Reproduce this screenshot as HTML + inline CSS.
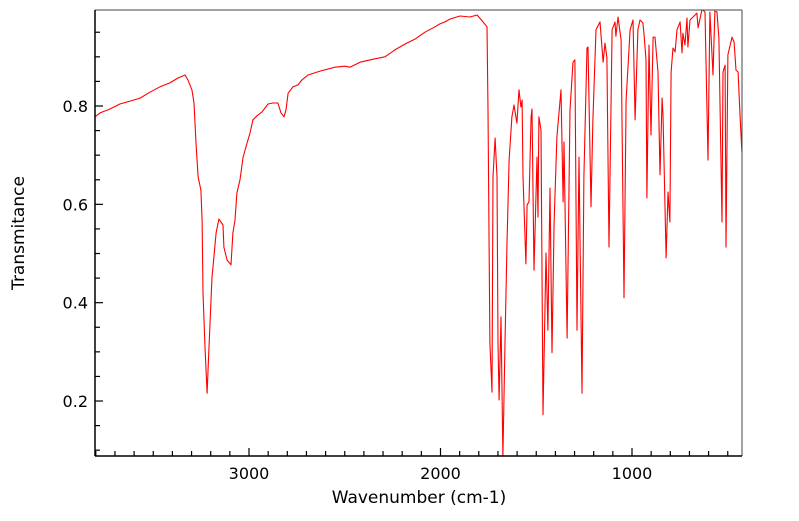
<!DOCTYPE html>
<html><head><meta charset="utf-8"><style>
html,body{margin:0;padding:0;background:#fff;}
svg text{font-family:"DejaVu Sans","Liberation Sans",sans-serif;}
</style></head><body>
<svg id="chart" width="799" height="516" viewBox="0 0 799 516" xmlns="http://www.w3.org/2000/svg">
<defs><clipPath id="plotclip"><rect x="95" y="10" width="647" height="446"/></clipPath></defs>
<rect x="95" y="10" width="647" height="446" fill="#fff"/>
<g id="ticks"></g>
<g id="series" clip-path="url(#plotclip)"></g>
<line x1="95" y1="10" x2="742" y2="10" stroke="#444" stroke-width="1"/>
<line x1="742" y1="10" x2="742" y2="456" stroke="#444" stroke-width="1"/>
<line x1="95" y1="456" x2="742" y2="456" stroke="#000" stroke-width="1.5"/>
<line x1="95" y1="10" x2="95" y2="456" stroke="#000" stroke-width="1.5"/>
<text x="419" y="503" font-size="17" text-anchor="middle">Wavenumber (cm-1)</text>
<text x="24" y="233" font-size="17" text-anchor="middle" transform="rotate(-90 24 233)">Transmitance</text>
</svg>
<script>
const wavenumbers=[3804,3778,3726,3674,3621,3569,3517,3465,3413,3371,3334,3319,3298,3287,3277,3266,3251,3245,3240,3230,3219,3209,3193,3188,3172,3157,3136,3131,3115,3094,3084,3073,3063,3047,3031,3010,2995,2979,2958,2932,2901,2875,2849,2833,2817,2807,2796,2770,2744,2723,2692,2629,2551,2499,2473,2420,2342,2290,2238,2185,2133,2081,2029,2003,1977,1950,1898,1846,1809,1778,1757,1752,1742,1731,1726,1715,1705,1700,1694,1684,1674,1663,1653,1642,1627,1616,1601,1590,1580,1574,1569,1554,1548,1538,1527,1522,1512,1496,1491,1486,1475,1465,1449,1439,1428,1418,1407,1392,1371,1360,1355,1339,1324,1308,1298,1287,1277,1261,1251,1235,1230,1214,1204,1188,1167,1151,1141,1131,1120,1104,1089,1084,1073,1057,1042,1031,1010,995,984,969,958,943,937,927,922,911,901,890,880,864,854,843,838,822,812,802,796,786,775,765,749,739,734,723,713,708,697,681,661,655,634,619,603,593,577,567,556,546,530,525,514,509,499,478,467,457,446,436,426];
const transmittance=[0.778,0.786,0.794,0.804,0.810,0.816,0.828,0.839,0.847,0.857,0.863,0.853,0.833,0.806,0.725,0.656,0.629,0.568,0.420,0.310,0.216,0.310,0.452,0.473,0.542,0.570,0.558,0.513,0.487,0.477,0.542,0.568,0.623,0.650,0.696,0.725,0.745,0.772,0.780,0.788,0.804,0.806,0.806,0.786,0.778,0.792,0.826,0.839,0.843,0.853,0.863,0.871,0.879,0.881,0.879,0.889,0.896,0.900,0.914,0.926,0.936,0.950,0.961,0.967,0.971,0.977,0.983,0.981,0.985,0.971,0.961,0.792,0.318,0.218,0.656,0.735,0.656,0.318,0.202,0.371,0.086,0.318,0.521,0.690,0.778,0.802,0.765,0.833,0.798,0.812,0.656,0.479,0.599,0.605,0.778,0.794,0.466,0.696,0.574,0.778,0.751,0.172,0.501,0.344,0.633,0.298,0.562,0.737,0.833,0.605,0.727,0.328,0.792,0.889,0.894,0.344,0.696,0.216,0.656,0.918,0.920,0.595,0.772,0.955,0.971,0.889,0.928,0.898,0.513,0.955,0.971,0.942,0.981,0.934,0.410,0.812,0.955,0.975,0.772,0.955,0.975,0.969,0.944,0.894,0.613,0.924,0.741,0.940,0.940,0.869,0.660,0.816,0.782,0.491,0.625,0.564,0.869,0.918,0.910,0.955,0.971,0.908,0.948,0.924,0.979,0.920,0.975,0.981,0.989,0.959,0.997,0.991,0.690,0.991,0.863,0.993,0.991,0.938,0.564,0.869,0.883,0.513,0.904,0.940,0.930,0.873,0.869,0.782,0.706];
const xTickLabels=[3000,2000,1000];
const yTickLabels=["0.2","0.4","0.6","0.8"];
const yTickValues=[0.2,0.4,0.6,0.8];

const NS="http://www.w3.org/2000/svg";
function xs(w){return 249+(3000-w)*0.1915;}
function ys(t){return 106+(0.8-t)*491.7;}
const svg=document.getElementById('chart');
const tg=document.getElementById('ticks');
function line(x1,y1,x2,y2,name){
  const l=document.createElementNS(NS,'line');
  l.setAttribute('x1',x1);l.setAttribute('y1',y1);l.setAttribute('x2',x2);l.setAttribute('y2',y2);
  l.setAttribute('stroke','#000');l.setAttribute('stroke-width','1.2');
  
  
  tg.appendChild(l);
}
for(let w=500;w<=3800;w+=100){
  const major=(w%1000===0);
  line(xs(w),456,xs(w),456-(major?8:5),major?'x-major-tick':'x-minor-tick');
}
for(let k=2;k<=19;k++){
  const t=k*0.05;
  const major=(k%4===0);
  line(95,ys(t),95+(major?8:5),ys(t),major?'y-major-tick':'y-minor-tick');
}
xTickLabels.forEach(v=>{
  const t=document.createElementNS(NS,'text');
  t.setAttribute('x',xs(v));t.setAttribute('y',479);t.setAttribute('font-size','16');t.setAttribute('text-anchor','middle');
  t.textContent=v;
  
  
  svg.appendChild(t);
});
yTickValues.forEach((v,i)=>{
  const t=document.createElementNS(NS,'text');
  t.setAttribute('x',88);t.setAttribute('y',ys(v)+6);t.setAttribute('font-size','16');t.setAttribute('text-anchor','end');
  t.textContent=yTickLabels[i];
  
  
  svg.appendChild(t);
});
const p=document.createElementNS(NS,'path');
p.setAttribute('d',wavenumbers.map((w,i)=>(i?'L':'M')+xs(w).toFixed(1)+','+ys(transmittance[i]).toFixed(1)).join(''));
p.setAttribute('fill','none');p.setAttribute('stroke','#ff0000');p.setAttribute('stroke-width','1.1');p.setAttribute('stroke-linejoin','round');


document.getElementById('series').appendChild(p);
</script>
</body></html>
